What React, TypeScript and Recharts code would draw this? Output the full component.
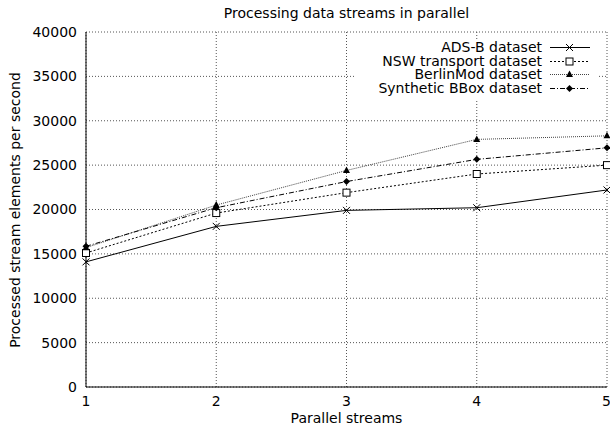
import React from 'react';
import { LineChart, Line, XAxis, YAxis, CartesianGrid } from 'recharts';

const streams = [1, 2, 3, 4, 5];
const adsb = [14100, 18100, 19900, 20200, 22200];
const nsw = [15100, 19600, 21900, 24000, 25000];
const berlin = [15700, 20500, 24400, 27900, 28300];
const synthetic = [15850, 20200, 23150, 25650, 26950];

const yTicks = [0, 5000, 10000, 15000, 20000, 25000, 30000, 35000, 40000];
const xTicks = [1, 2, 3, 4, 5];

const title = 'Processing data streams in parallel';
const xLabel = 'Parallel streams';
const yLabel = 'Processed stream elements per second';

const data = streams.map((s, i) => ({
  streams: s,
  adsb: adsb[i],
  nsw: nsw[i],
  berlin: berlin[i],
  synthetic: synthetic[i],
}));

const FONT = '"DejaVu Sans", Verdana, sans-serif';

const series = [
  { key: 'adsb', name: 'ADS-B dataset', stroke: '#000', dash: undefined, marker: 'cross' },
  { key: 'nsw', name: 'NSW transport dataset', stroke: '#000', dash: '2 2', marker: 'square' },
  { key: 'berlin', name: 'BerlinMod dataset', stroke: '#444', dash: '1 1', marker: 'triangle' },
  { key: 'synthetic', name: 'Synthetic BBox dataset', stroke: '#000', dash: '5 2 1 2', marker: 'diamond' },
];

const Marker = ({ kind, cx, cy }: { kind: string; cx: number; cy: number }) => {
  if (cx == null || cy == null) return null;
  if (kind === 'cross') {
    return (
      <g stroke="#000" strokeWidth={1}>
        <line x1={cx - 3.5} y1={cy - 3.5} x2={cx + 3.5} y2={cy + 3.5} />
        <line x1={cx - 3.5} y1={cy + 3.5} x2={cx + 3.5} y2={cy - 3.5} />
      </g>
    );
  }
  if (kind === 'square') {
    return <rect x={cx - 3.5} y={cy - 3.5} width={7} height={7} fill="#fff" stroke="#000" strokeWidth={1} />;
  }
  if (kind === 'triangle') {
    return <polygon points={`${cx},${cy - 4} ${cx - 3.5},${cy + 2.5} ${cx + 3.5},${cy + 2.5}`} fill="#000" />;
  }
  return <polygon points={`${cx},${cy - 3.5} ${cx + 3.5},${cy} ${cx},${cy + 3.5} ${cx - 3.5},${cy}`} fill="#000" />;
};

const App = () => {
  return (
    <div style={{ position: 'absolute', left: 0, top: 0, width: 610, height: 432, fontFamily: FONT }}>
      <LineChart
        width={610}
        height={432}
        data={data}
        margin={{ top: 32, right: 3, left: 0, bottom: 0 }}
      >
        <CartesianGrid
          xAxisId="main"
          yAxisId="main"
          stroke="#555"
          strokeDasharray="1 2"
        />
        <XAxis
          xAxisId="main"
          dataKey="streams"
          type="number"
          domain={[1, 5]}
          ticks={xTicks}
          height={45}
          axisLine={{ stroke: '#000' }}
          tickLine={false}
          tickSize={0}
          tickMargin={9}
          tick={{ fill: '#000', fontSize: 14, fontFamily: FONT }}
        />
        <XAxis
          xAxisId="bottomIn"
          dataKey="streams"
          type="number"
          domain={[1, 5]}
          ticks={xTicks}
          orientation="bottom"
          mirror
          height={0}
          axisLine={false}
          tickLine={{ stroke: '#000' }}
          tickSize={5}
          tick={false}
        />
        <XAxis
          xAxisId="top"
          dataKey="streams"
          type="number"
          domain={[1, 5]}
          ticks={xTicks}
          orientation="top"
          mirror
          height={0}
          axisLine={{ stroke: '#000' }}
          tickLine={{ stroke: '#000' }}
          tickSize={5}
          tick={false}
        />
        <YAxis
          yAxisId="main"
          type="number"
          domain={[0, 40000]}
          ticks={yTicks}
          width={86}
          axisLine={{ stroke: '#000' }}
          tickLine={false}
          tickSize={0}
          tickMargin={9}
          tick={{ fill: '#000', fontSize: 14, fontFamily: FONT }}
        />
        <YAxis
          yAxisId="leftIn"
          type="number"
          domain={[0, 40000]}
          ticks={yTicks}
          orientation="left"
          mirror
          width={0}
          axisLine={false}
          tickLine={{ stroke: '#000' }}
          tickSize={5}
          tick={false}
        />
        <YAxis
          yAxisId="right"
          type="number"
          domain={[0, 40000]}
          ticks={yTicks}
          orientation="right"
          mirror
          width={0}
          axisLine={{ stroke: '#000' }}
          tickLine={{ stroke: '#000' }}
          tickSize={5}
          tick={false}
        />
        {series.map((s) => (
          <Line
            key={s.key}
            xAxisId="main"
            yAxisId="main"
            dataKey={s.key}
            name={s.name}
            type="linear"
            stroke={s.stroke}
            strokeWidth={1}
            strokeDasharray={s.dash}
            isAnimationActive={false}
            activeDot={false}
            dot={(p: any) => <Marker key={`${s.key}-${p.index}`} kind={s.marker} cx={p.cx} cy={p.cy} />}
          />
        ))}
      </LineChart>

      {/* title and axis labels */}
      <div style={{ position: 'absolute', left: 86, width: 521, top: 5, textAlign: 'center', fontSize: 14 }}>
        {title}
      </div>
      <div style={{ position: 'absolute', left: 86, width: 521, top: 410, textAlign: 'center', fontSize: 14 }}>
        {xLabel}
      </div>
      <div
        style={{
          position: 'absolute',
          left: 15,
          top: 210,
          transform: 'translate(-50%, -50%) rotate(-90deg)',
          whiteSpace: 'nowrap',
          fontSize: 14,
        }}
      >
        {yLabel}
      </div>

      {/* key box, opaque like gnuplot's */}
      <div
        style={{
          position: 'absolute',
          left: 355,
          top: 39,
          width: 242,
          height: 60,
          background: '#fff',
          fontSize: 14,
        }}
      >
        {series.map((s, i) => (
          <div
            key={s.key}
            style={{
              position: 'absolute',
              right: 4,
              top: 2 + i * 13.6,
              height: 13,
              display: 'flex',
              alignItems: 'center',
            }}
          >
            <span style={{ display: 'inline-block', whiteSpace: 'nowrap', height: 13, lineHeight: '13px', overflow: 'visible' }}>
              {s.name}
            </span>
            <svg width={48} height={13} style={{ marginLeft: 3 }}>
              <line x1={5} y1={6.5} x2={45} y2={6.5} stroke={s.stroke} strokeDasharray={s.dash} />
              <Marker kind={s.marker} cx={24.5} cy={6.5} />
            </svg>
          </div>
        ))}
      </div>
    </div>
  );
};

export default App;
